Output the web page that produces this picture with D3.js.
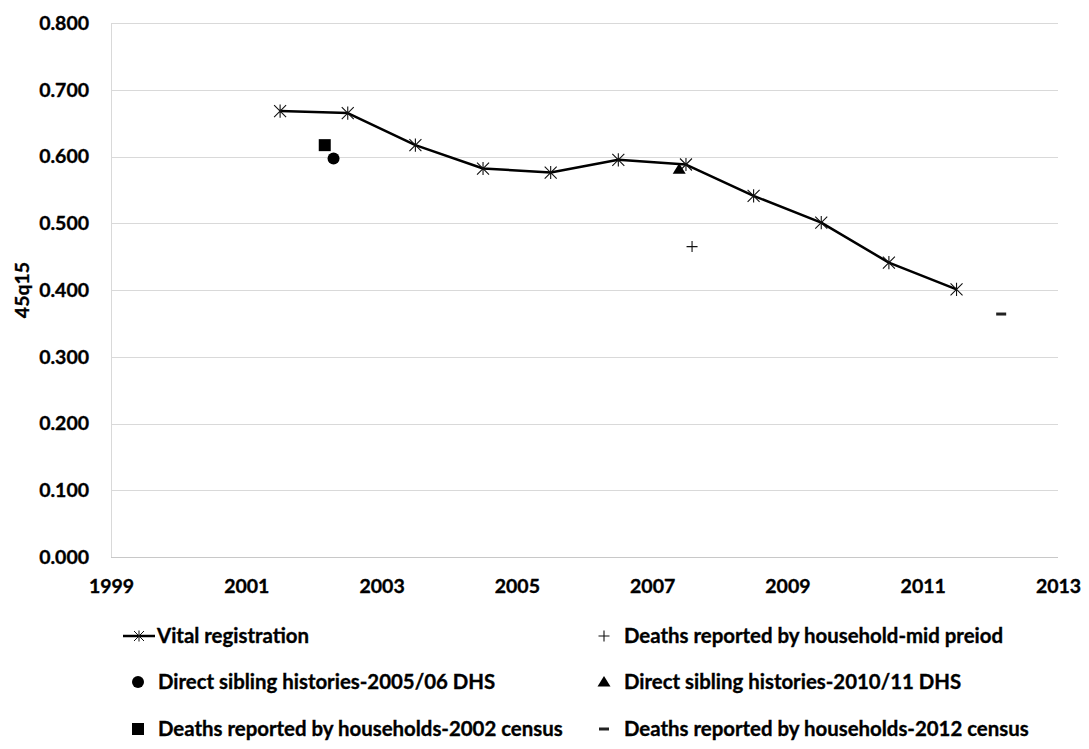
<!DOCTYPE html>
<html>
<head>
<meta charset="utf-8">
<script src="https://cdn.jsdelivr.net/npm/d3@7"></script>
<style>
  html, body { margin: 0; padding: 0; background: #fff; }
  svg text { font-family: Lato, "Open Sans", sans-serif; font-weight: bold; fill: #000; stroke: #000; stroke-width: 0.35px; }
</style>
</head>
<body>
<svg id="chart" width="1089" height="749"></svg>
<script>
// ---- data ----
const vrYears  = [2001.5, 2002.5, 2003.5, 2004.5, 2005.5, 2006.5, 2007.5, 2008.5, 2009.5, 2010.5, 2011.5];
const vrValues = [0.668, 0.665, 0.617, 0.582, 0.576, 0.595, 0.588, 0.541, 0.501, 0.441, 0.401];
const hhMidYears = [2007.59];            const hhMidValues = [0.465];
const dhs0506Years = [2002.29];          const dhs0506Values = [0.597];
const dhs1011Years = [2007.40];          const dhs1011Values = [0.581];
const census2002Years = [2002.16];       const census2002Values = [0.617];
const census2012Years = [2012.16];       const census2012Values = [0.364];
const xTicks = [1999, 2001, 2003, 2005, 2007, 2009, 2011, 2013];
const yTicks = [0, 0.1, 0.2, 0.3, 0.4, 0.5, 0.6, 0.7, 0.8];
const yTitle = "45q15";
const legendLabels = [
  "Vital registration",
  "Deaths reported by household-mid preiod",
  "Direct sibling histories-2005/06 DHS",
  "Direct sibling histories-2010/11 DHS",
  "Deaths reported by households-2002 census",
  "Deaths reported by households-2012 census"
];

// ---- layout ----
const svg = d3.select("#chart");
const L = 111, R = 1058, T = 23, B = 557;
const x = d3.scaleLinear().domain([1999, 2013]).range([L, R]);
const y = d3.scaleLinear().domain([0, 0.8]).range([B, T]);

// gridlines
svg.append("g").selectAll("line").data(yTicks.filter(d => d > 0)).join("line")
  .attr("x1", L).attr("x2", R)
  .attr("y1", d => Math.round(y(d)) + 0.5).attr("y2", d => Math.round(y(d)) + 0.5)
  .attr("stroke", "#d9d9d9").attr("stroke-width", 1);

// axes lines
svg.append("line").attr("x1", L + 0.5).attr("x2", L + 0.5).attr("y1", T).attr("y2", B)
  .attr("stroke", "#d9d9d9");
svg.append("line").attr("x1", L).attr("x2", R).attr("y1", B + 0.5).attr("y2", B + 0.5)
  .attr("stroke", "#c8c8c8");

// y axis via d3
const yAxis = d3.axisLeft(y).tickValues(yTicks).tickFormat(d3.format(".3f")).tickSize(0).tickPadding(22);
const gy = svg.append("g").attr("transform", `translate(${L},0)`).call(yAxis);
gy.select(".domain").remove();
gy.selectAll("text").style("font-size", "19.5px").style("font-family", "Lato, sans-serif").style("font-weight", "bold").attr("fill", "#000");

// x axis via d3
const xAxis = d3.axisBottom(x).tickValues(xTicks).tickFormat(d3.format("d")).tickSize(0).tickPadding(22);
const gx = svg.append("g").attr("transform", `translate(0,${B})`).call(xAxis);
gx.select(".domain").remove();
gx.selectAll("text").style("font-size", "19.5px").style("font-family", "Lato, sans-serif").style("font-weight", "bold").attr("fill", "#000");

// y title
svg.append("text").attr("transform", `translate(29,${(T + B) / 2}) rotate(-90)`)
  .attr("text-anchor", "middle").style("font-size", "19.5px").text(yTitle);

// ---- marker helpers ----
function starPath(s) {
  return `M${-s},${-s}L${s},${s}M${-s},${s}L${s},${-s}M0,${-s * 1.1}L0,${s * 1.1}`;
}
function drawMarker(g, type, cx, cy) {
  if (type === "star") {
    g.append("path").attr("d", starPath(6)).attr("transform", `translate(${cx},${cy})`)
      .attr("stroke", "#111").attr("stroke-width", 1.1).attr("fill", "none");
  } else if (type === "circle") {
    g.append("circle").attr("cx", cx).attr("cy", cy).attr("r", 6).attr("fill", "#000");
  } else if (type === "square") {
    g.append("rect").attr("x", cx - 6).attr("y", cy - 6).attr("width", 12).attr("height", 12).attr("fill", "#000");
  } else if (type === "triangle") {
    g.append("path").attr("d", "M0,-6L6.5,4.5L-6.5,4.5Z").attr("transform", `translate(${cx},${cy})`).attr("fill", "#000");
  } else if (type === "plus") {
    g.append("path").attr("d", "M-5.5,0L5.5,0M0,-5.5L0,5.5").attr("transform", `translate(${cx},${cy})`)
      .attr("stroke", "#111").attr("stroke-width", 1.1).attr("fill", "none");
  } else if (type === "dash") {
    g.append("rect").attr("x", cx - 5).attr("y", cy - 1.5).attr("width", 10).attr("height", 3).attr("fill", "#222");
  }
}

// ---- series ----
const vr = vrYears.map((d, i) => [d, vrValues[i]]);
svg.append("path").datum(vr)
  .attr("d", d3.line().x(d => x(d[0])).y(d => y(d[1])))
  .attr("fill", "none").attr("stroke", "#000").attr("stroke-width", 2.5).attr("stroke-linejoin", "round");
const mg = svg.append("g");
vr.forEach(d => drawMarker(mg, "star", x(d[0]), y(d[1])));

const others = [
  [census2002Years, census2002Values, "square"],
  [dhs0506Years, dhs0506Values, "circle"],
  [dhs1011Years, dhs1011Values, "triangle"],
  [hhMidYears, hhMidValues, "plus"],
  [census2012Years, census2012Values, "dash"]
];
others.forEach(([xs, vs, t]) => xs.forEach((xx, i) => drawMarker(mg, t, x(xx), y(vs[i]))));

// ---- legend ----
const legend = svg.append("g");
const legendItems = [
  {label: legendLabels[0], type: "star",     mx: 139, tx: 157, cy: 636, line: true},
  {label: legendLabels[1], type: "plus",     mx: 604, tx: 624, cy: 636},
  {label: legendLabels[2], type: "circle",   mx: 138, tx: 158, cy: 682},
  {label: legendLabels[3], type: "triangle", mx: 604, tx: 624, cy: 682},
  {label: legendLabels[4], type: "square",   mx: 138, tx: 158, cy: 729},
  {label: legendLabels[5], type: "dash",     mx: 604, tx: 624, cy: 729}
];
legendItems.forEach(it => {
  if (it.line) {
    legend.append("line").attr("x1", it.mx - 16).attr("x2", it.mx + 16).attr("y1", it.cy).attr("y2", it.cy)
      .attr("stroke", "#000").attr("stroke-width", 2.5);
    legend.append("path").attr("d", starPath(5)).attr("transform", `translate(${it.mx},${it.cy})`)
      .attr("stroke", "#111").attr("stroke-width", 1).attr("fill", "none");
  } else {
    drawMarker(legend, it.type, it.mx, it.cy);
  }
  legend.append("text").attr("x", it.tx).attr("y", it.cy).attr("dy", "0.35em")
    .style("font-size", "20.4px").text(it.label);
});
</script>
</body>
</html>
